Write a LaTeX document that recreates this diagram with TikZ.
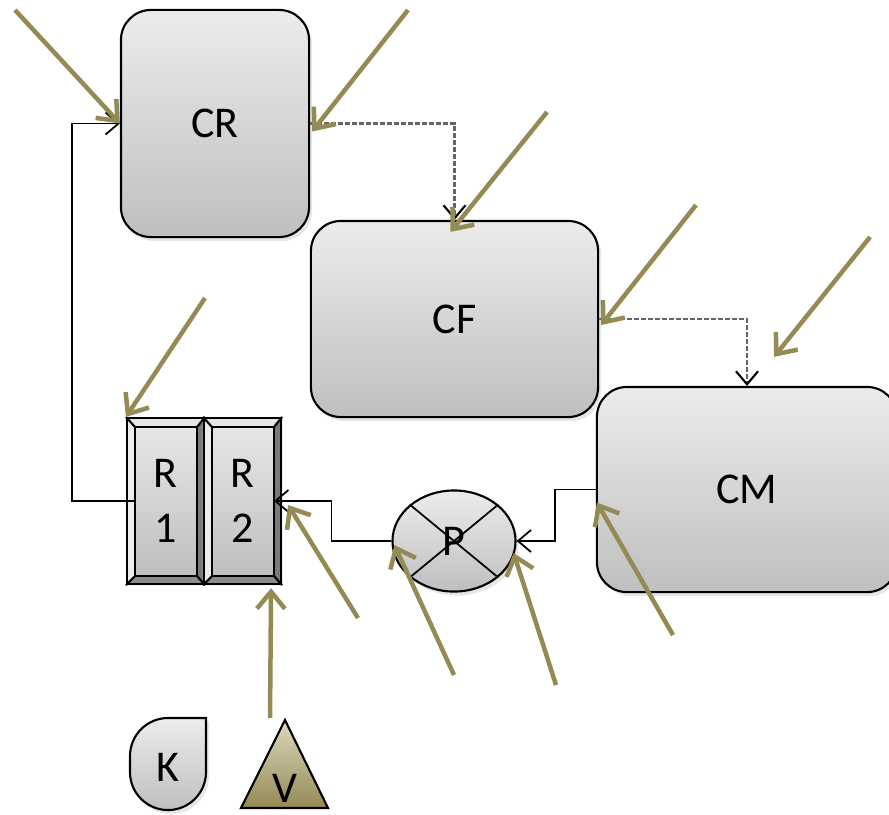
\documentclass[tikz,border=0pt]{standalone}
\usepackage{fontspec}
\setmainfont{Carlito}
\usepackage{tikz}
\usetikzlibrary{arrows.meta,calc,shadows,shapes.geometric}
\pgfdeclarelayer{bglayer}
\pgfsetlayers{bglayer,main}
\definecolor{hexcolor0x948a54}{rgb}{0.580,0.541,0.329}
\definecolor{hexcolor0xececec}{rgb}{0.925,0.925,0.925}
\definecolor{hexcolor0xbfbfbf}{rgb}{0.749,0.749,0.749}
\definecolor{hexcolor0xe6e6e6}{rgb}{0.902,0.902,0.902}
\definecolor{hexcolor0x7a7a7a}{rgb}{0.478,0.478,0.478}
\definecolor{hexcolor0x8c8c8c}{rgb}{0.549,0.549,0.549}
\definecolor{hexcolor0x646464}{rgb}{0.392,0.392,0.392}
\definecolor{hexcolor0xddd8c0}{rgb}{0.867,0.847,0.753}
\definecolor{myblack}{rgb}{0.000,0.000,0.000}
\tikzstyle{label}=[font=\fontsize{12.5}{15.6}\selectfont]
\tikzstyle{block}=[rectangle,rounded corners=0.3cm,draw=myblack,line width=0.6pt,top color=hexcolor0xececec,bottom color=hexcolor0xbfbfbf,drop shadow={opacity=0.2,shadow xshift=0.03cm,shadow yshift=-0.04cm},label]
\tikzstyle{relay}=[rectangle,draw=myblack,line width=0.6pt,minimum width=0.77cm,minimum height=1.66cm,inner sep=0pt,align=center,label]
\tikzstyle{pump}=[ellipse,draw=myblack,line width=0.6pt,minimum width=1.23cm,minimum height=1.01cm,inner sep=0pt,top color=hexcolor0xececec,bottom color=hexcolor0xbfbfbf,drop shadow={opacity=0.2,shadow xshift=0.03cm,shadow yshift=-0.04cm},label]
\tikzstyle{link}=[draw=myblack,line width=0.5pt,-{Straight Barb[length=0.13cm,width=0.22cm]}]
\tikzstyle{dlink}=[draw=hexcolor0x646464,line width=0.6pt,dash pattern=on 0.045cm off 0.025cm,-{Straight Barb[length=0.13cm,width=0.22cm,color=myblack]}]
\tikzstyle{input}=[draw=hexcolor0x948a54,line width=0.045cm,-{Straight Barb[length=0.17cm,width=0.28cm]}]
\newcommand{\bevel}[1]{%
	\coordinate (#1-p) at ($(#1.north west)+(9,10)$);
	\coordinate (#1-q) at ($(#1.north east)+(-8,10)$);
	\coordinate (#1-r) at ($(#1.south east)+(-8,-9)$);
	\coordinate (#1-s) at ($(#1.south west)+(9,-9)$);
	\begin{pgfonlayer}{bglayer}
		\fill [hexcolor0xe6e6e6] (#1.north west) -- (#1.north east) -- (#1-q) -- (#1-p) -- cycle;
		\fill [hexcolor0xececec] (#1.north west) -- (#1-p) -- (#1-s) -- (#1.south west) -- cycle;
		\fill [hexcolor0x7a7a7a] (#1.north east) -- (#1.south east) -- (#1-r) -- (#1-q) -- cycle;
		\fill [hexcolor0x8c8c8c] (#1.south west) -- (#1-s) -- (#1-r) -- (#1.south east) -- cycle;
		\shade [top color=hexcolor0xe6e6e6,bottom color=hexcolor0xbfbfbf] (#1-p) rectangle (#1-r);
	\end{pgfonlayer}
	\draw [line width=0.6pt] (#1-p) rectangle (#1-r);
	\draw [line width=0.6pt] (#1.north west) -- (#1-p) (#1.north east) -- (#1-q)
		(#1.south east) -- (#1-r) (#1.south west) -- (#1-s);
}

\begin{document}
\begin{tikzpicture}[x=0.01cm,y=-0.01cm]
	\useasboundingbox (0,0) rectangle (889,814);
	\clip (0,0) rectangle (889,814);
	% blocks
	\node [style=block,minimum width=1.88cm,minimum height=2.27cm] (CR) at (215,123.5) {CR};
	\node [style=block,minimum width=2.87cm,minimum height=1.96cm] (CF) at (454.5,319) {CF};
	\node [style=block,minimum width=3cm,minimum height=2.05cm] (CM) at (747,489.5) {CM};
	\node [style=relay] (R1) at (165.5,501) {R\\1};
	\node [style=relay] (R2) at (242.5,501) {R\\2};
	\bevel{R1}
	\bevel{R2}
	\node [style=pump] (P) at (454,541) {P};
	\draw [line width=0.5pt] (P.north west) -- (P.south east) (P.north east) -- (P.south west);
	\draw [line width=0.6pt,top color=hexcolor0xececec,bottom color=hexcolor0xbfbfbf,drop shadow={opacity=0.2,shadow xshift=0.03cm,shadow yshift=-0.04cm}]
		(206,718) -- (206,772) arc[start angle=0,end angle=-180,radius=0.38cm]
		-- (130,756) arc[start angle=180,end angle=90,radius=0.38cm] -- cycle;
	\node [style=label] (K) at (168,767) {K};
	\draw [line width=0.6pt,top color=hexcolor0xddd8c0,bottom color=hexcolor0x948a54] (241,808) -- (285,720) -- (328,808) -- cycle;
	\node [style=label] (V) at (285,788) {V};
	% connectors
	\draw [style=link] ($(R1.west)+(9,0)$) -- ++(-63,0) |- (CR.west);
	\draw [style=link] (P.west) -- ++(-60,0) |- ($(R2.east)+(-8,0)$);
	\draw [style=link] (CM.west) -- ++(-41,0) |- (P.east);
	\draw [style=dlink] (CR.east) -| (CF.north);
	\draw [style=dlink] (CF.east) -| (CM.north);
	% inputs
	\coordinate (i1) at (15,10);
	\coordinate (i2) at (408,10);
	\coordinate (i3) at (547,112);
	\coordinate (i4) at (696,205);
	\coordinate (i5) at (870,237);
	\coordinate (i6) at (205,298);
	\coordinate (i7) at (358,618);
	\coordinate (i8) at (270,718);
	\coordinate (i9) at (454,675);
	\coordinate (i10) at (556,685);
	\coordinate (i11) at (673,635);
	\draw [style=input] (i1) -- (CR.west);
	\draw [style=input] (i2) -- ($(CR.east)+(2,8)$);
	\draw [style=input] (i3) -- ($(CF.north)+(-4,12)$);
	\draw [style=input] (i4) -- ($(CF.east)+(2,6)$);
	\draw [style=input] (i5) -- ($(CM.north)+(27,-29)$);
	\draw [style=input] (i6) -- (R1.north west);
	\draw [style=input] (i7) -- ($(R2.east)+(6,4)$);
	\draw [style=input] (i8) -- ($(R2.south east)+(-11,3)$);
	\draw [style=input] (i9) -- ($(P.west)+(3,4)$);
	\draw [style=input] (i10) -- ($(P.east)+(-3,12)$);
	\draw [style=input] (i11) -- ($(CM.west)+(1,13)$);
\end{tikzpicture}
\end{document}
